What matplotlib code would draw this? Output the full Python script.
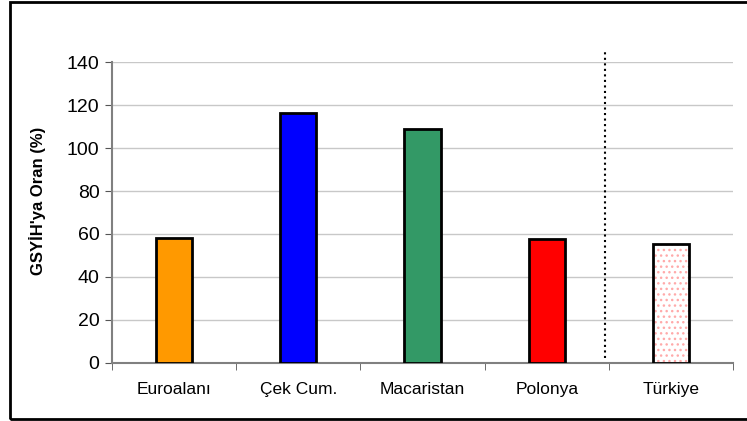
import matplotlib.pyplot as plt
import matplotlib.patches as mpatches

plt.rcParams['font.family'] = ['Liberation Sans', 'DejaVu Sans']

# veriler
ulkeler = ['Euroalanı', 'Çek Cum.', 'Macaristan', 'Polonya', 'Türkiye']
oranlar = [58.2, 116.3, 108.8, 57.8, 55.3]
renkler = ['#ff9900', '#0000ff', '#339966', '#ff0000', 'white']

fig = plt.figure(figsize=(7.47, 4.21), dpi=100)
ax = fig.add_axes([0.1499, 0.1378, 0.8314, 0.7149])

x = list(range(len(ulkeler)))
for i in x:
    if ulkeler[i] == 'Türkiye':
        # noktali desen
        ax.bar(i, oranlar[i], width=0.29, color='white', edgecolor='#ffaaaa',
               hatch='...', linewidth=0, zorder=3)
        ax.bar(i, oranlar[i], width=0.29, fill=False, edgecolor='black',
               linewidth=2, zorder=4)
    else:
        ax.bar(i, oranlar[i], width=0.29, color=renkler[i], edgecolor='black',
               linewidth=2, zorder=3)

ax.set_xlim(-0.5, 4.5)
ax.set_ylim(0, 140)
ax.set_yticks(range(0, 141, 20))
ax.yaxis.grid(True, color='#c8c8c8', linewidth=1)
ax.set_axisbelow(True)

ax.set_xticks(x)
ax.set_xticklabels(ulkeler, fontsize=12.5)
ax.set_xticks([-0.5, 0.5, 1.5, 2.5, 3.5, 4.5], minor=True)
ax.tick_params(axis='x', which='major', length=0, pad=14)
ax.tick_params(axis='x', which='minor', length=5, color='#555555', direction='out')
ax.tick_params(axis='y', labelsize=14, length=5, color='#555555', pad=4)

for s in ['top', 'right']:
    ax.spines[s].set_visible(False)
for s in ['left', 'bottom']:
    ax.spines[s].set_color('#808080')
    ax.spines[s].set_linewidth(1.5)

ax.set_ylabel("GSYİH'ya Oran (%)", fontsize=12, fontweight='bold')
ax.yaxis.set_label_coords(-0.107, 0.54)

# Turkiye ayiran noktali cizgi
ax.plot([3.47, 3.47], [2.3, 146], color='black', linestyle=':', linewidth=1.5,
        clip_on=False, zorder=5)

# dis cerceve
fig.patches.append(mpatches.Rectangle((10 / 747, 2 / 421), 740 / 747, 417 / 421,
                                      transform=fig.transFigure, fill=False,
                                      edgecolor='black', linewidth=2))

fig.savefig('out.png', dpi=100)
